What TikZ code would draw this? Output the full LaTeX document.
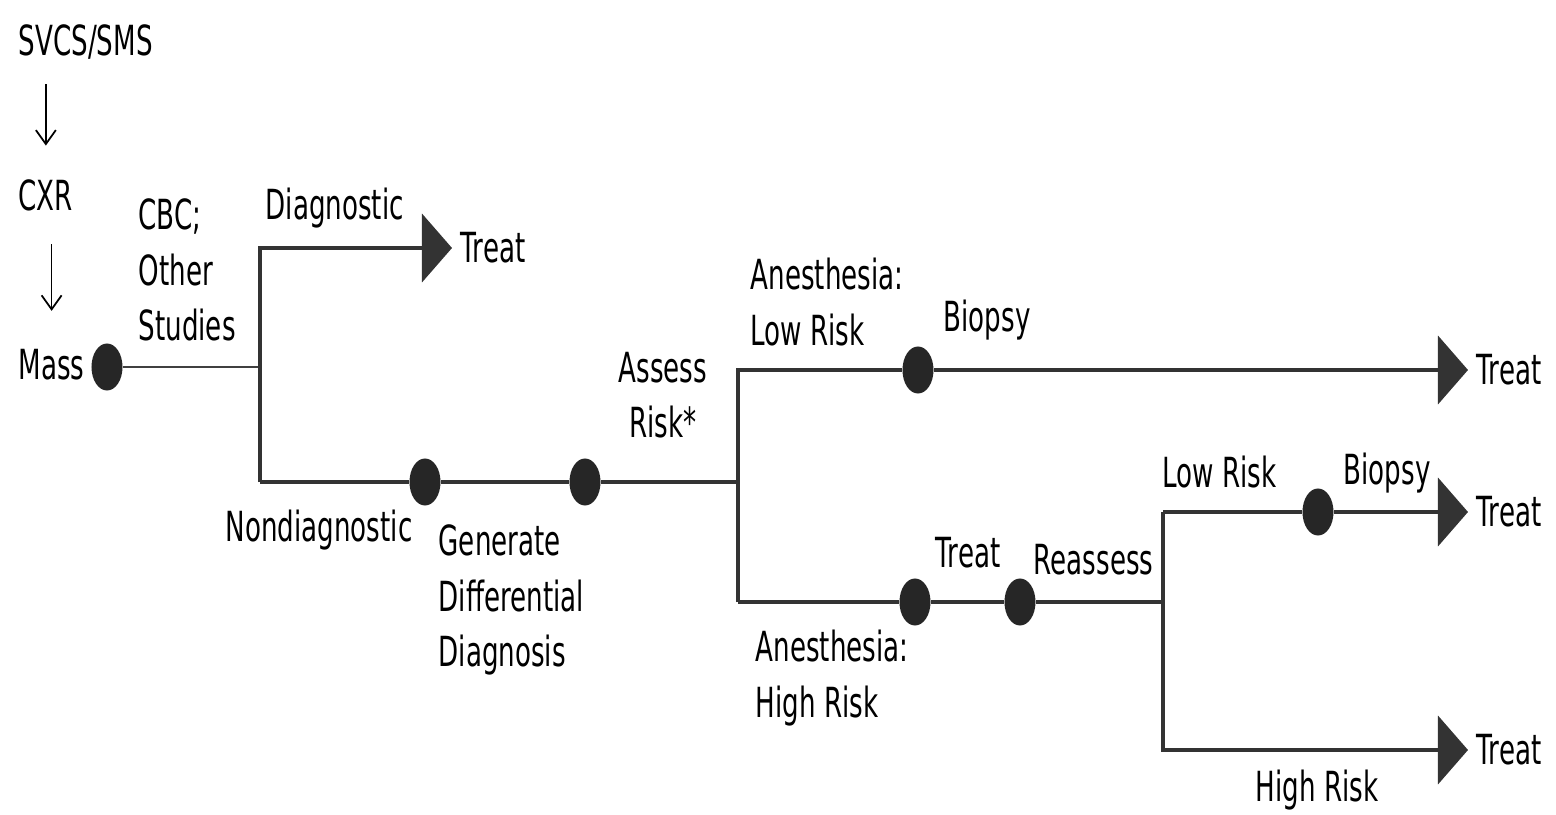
\documentclass[tikz,border=0pt]{standalone}
\usepackage{fontspec}
\setmainfont[FakeStretch=0.63]{DejaVu Sans}
\usetikzlibrary{shapes.geometric,arrows.meta}
\begin{document}
\begin{tikzpicture}[x=0.01cm,y=-0.01cm,
  lbl/.style={inner sep=0pt, font=\fontsize{11.8}{15.8}\selectfont},
  dot/.style={ellipse, fill=black!85, minimum width=0.31cm, minimum height=0.47cm, inner sep=0pt},
  branch/.style={line width=1.2pt, draw=black!80, line join=miter},
  thinline/.style={line width=0.7pt, draw=black!75},
  tip/.style={-{Triangle[length=0.3cm,width=0.68cm]}},
  down/.style={line width=0.5pt, -{Straight Barb[length=0.14cm,width=0.2cm]}},
  treat/.style={lbl, anchor=west, inner xsep=0.08cm}
]
\fill[white] (0,0) rectangle (1556,815);
\useasboundingbox (0,0) rectangle (1556,815);

% left column
\node[lbl,anchor=west] (svcs) at (18,42) {SVCS/SMS};
\node[lbl,anchor=west] (cxr) at (18,195) {CXR};
\node[lbl,anchor=west] (mass) at (18,365) {Mass};
\draw[down, shorten <=0.24cm, shorten >=0.33cm] (cxr.north |- svcs.south) -- (cxr.north);
\draw[down, shorten <=0.33cm, shorten >=0.38cm] (mass.north |- cxr.south) -- (mass.north);

% dots
\node[dot] (d0) at (107,367) {};
\node[dot] (d1) at (425,482) {};
\node[dot] (d2) at (585,482) {};
\node[dot] (d3) at (918,370) {};
\node[dot] (d4) at (915,602) {};
\node[dot] (d5) at (1020,602) {};
\node[dot] (d6) at (1318,512) {};

% junctions
\coordinate (j1m) at (260,367);
\coordinate (j1t) at (260,248);
\coordinate (j1b) at (260,482);
\coordinate (j2) at (738,482);
\coordinate (j2t) at (738,370);
\coordinate (j2b) at (738,602);
\coordinate (j3) at (1163,602);
\coordinate (j3t) at (1163,512);
\coordinate (j3b) at (1163,750);

% Treat endpoints
\node[treat] (t1) at (452,248) {Treat};
\node[treat] (t2) at (1468,370) {Treat};
\node[treat] (t3) at (1468,512) {Treat};
\node[treat] (t4) at (1468,750) {Treat};

% connectors
\draw[thinline] (d0) -- (j1m);
\draw[branch,tip] (j1b) -- (j1t) -- (t1.west);
\draw[branch] (j1b) -- (d1) -- (d2) -- (j2);
\draw[branch,tip] (j2b) -- (j2t) -- (d3) -- (t2.west);
\draw[branch] (j2b) -- (d4) -- (d5) -- (j3);
\draw[branch,tip] (j3t) -- (d6) -- (t3.west);
\draw[branch,tip] (j3t) -- (j3b) -- (t4.west);

% labels
\node[lbl,anchor=west] (diag) at (265,208) {Diagnostic};
\node[lbl,anchor=west,align=left] (cbc) at (138,270) {CBC;\\Other\\Studies};
\node[lbl,anchor=west] (nondiag) at (225,530) {Nondiagnostic};
\node[lbl,anchor=west,align=left] (gen) at (438,600) {Generate\\Differential\\Diagnosis};
\node[lbl,align=center] (assess) at (663,395) {Assess\\Risk*};
\node[lbl,anchor=west,align=left] (anlow) at (750,302) {Anesthesia:\\Low Risk};
\node[lbl,anchor=west] (biopsy1) at (943,320) {Biopsy};
\node[lbl,anchor=west] (treatmid) at (935,553) {Treat};
\node[lbl,anchor=west] (reassess) at (1033,560) {Reassess};
\node[lbl,anchor=west,align=left] (anhigh) at (755,678) {Anesthesia:\\High Risk};
\node[lbl,anchor=west] (lowrisk) at (1162,472) {Low Risk};
\node[lbl,anchor=west] (biopsy2) at (1343,473) {Biopsy};
\node[lbl,anchor=west] (highrisk) at (1255,790) {High Risk};
\end{tikzpicture}
\end{document}
